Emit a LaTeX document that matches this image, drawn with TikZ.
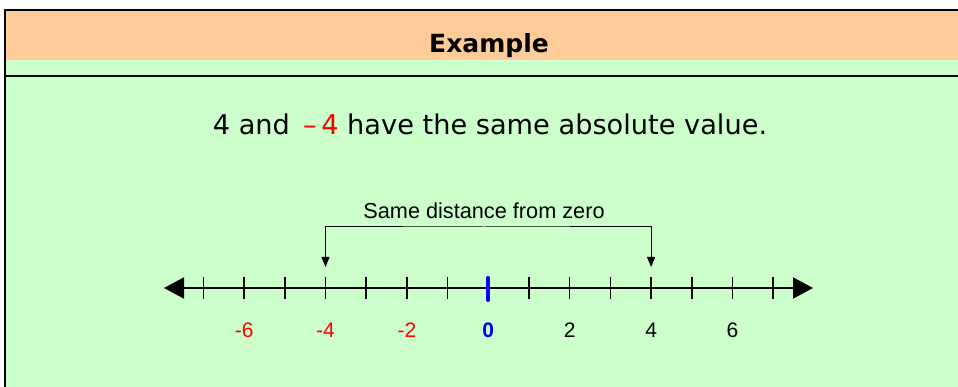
\documentclass[tikz,border=0pt]{standalone}
\usepackage{fontspec}
\setmainfont{Liberation Sans}
\newfontfamily\verdana{DejaVu Sans}
\usetikzlibrary{arrows.meta, positioning}
\definecolor{HeadOrange}{RGB}{255, 204, 153}
\definecolor{PanelGreen}{RGB}{204, 255, 204}

\begin{document}
\begin{tikzpicture}[
    x=1pt, y=-1pt,
    % --- Styles ---
    % Style for the frame lines of the panel
    frame-line/.style={line width=2pt, draw=black},
    % Style for the tick marks of the number line
    tick-mark/.style={line width=1.5pt},
    % Style for the numbers under the ticks
    tick-label/.style={
        font=\fontsize{21}{25}\selectfont,
        anchor=base,
        inner sep=0pt
    },
    % Style for the main number line with its big arrow heads
    line-style/.style={
        {Triangle[length=20pt, width=21pt]}-{Triangle[length=20pt, width=21pt]},
        line width=2pt
    },
    % Style for the small bracket arrows
    small-arrow/.style={
        {Triangle[length=10pt, width=8pt]}-{Triangle[length=10pt, width=8pt]},
        line width=1pt
    }
]

% --- Background and frame ---
\useasboundingbox (0,0) rectangle (958,387);
\fill[PanelGreen] (5,10) rectangle (958,387);
\fill[HeadOrange] (5,10) rectangle (958,60);
\draw[frame-line] (5,387) -- (5,10) -- (958,10);
\draw[frame-line] (5,76) -- (958,76);

% --- Title and statement ---
\node[anchor=base, inner sep=0pt, font=\verdana\bfseries\fontsize{25}{30}\selectfont]
    (title) at (489,53) {Example};
\node[anchor=base, inner sep=0pt, font=\verdana\fontsize{27.2}{32}\selectfont]
    (statement) at (490,135) {4 and \textcolor{red}{\,–\,4} have the same absolute value.};

% --- Number line ---
\coordinate (left-end) at (164,288);
\coordinate (right-end) at (813,288);
\draw[line-style] (left-end) -- (right-end);

\foreach \i in {-7,...,7} {
    \coordinate (t\i) at ({488.3+40.7*\i},277);
    \coordinate (b\i) at ({488.3+40.7*\i},299);
    \ifnum\i=0\else
        \draw[tick-mark] (t\i) -- (b\i);
    \fi
}
% zero tick in blue
\draw[blue, line width=4pt, line cap=round] ([yshift=-1pt]t0) -- ([yshift=-1pt]b0);

% --- Labels under the ticks ---
\foreach \i in {-6,-4,-2} {
    \node[tick-label, text=red] (n\i) at ({488.3+40.7*\i},337) {\i};
}
\node[tick-label, text=blue, font=\bfseries\fontsize{21}{25}\selectfont] (n0) at (488.3,337) {0};
\foreach \i in {2,4,6} {
    \node[tick-label] (n\i) at ({488.3+40.7*\i},337) {\i};
}

% --- Same distance bracket ---
\node[anchor=base, inner sep=0pt, font=\fontsize{21.7}{26}\selectfont]
    (dist) at (484,219) {Same distance from zero};
\coordinate (tip-left) at ({488.3-40.7*4},267);
\coordinate (tip-right) at ({488.3+40.7*4},267);
\draw[small-arrow] (tip-left) |- ([yshift=-8pt]dist.base) -| (tip-right);

\end{tikzpicture}
\end{document}
